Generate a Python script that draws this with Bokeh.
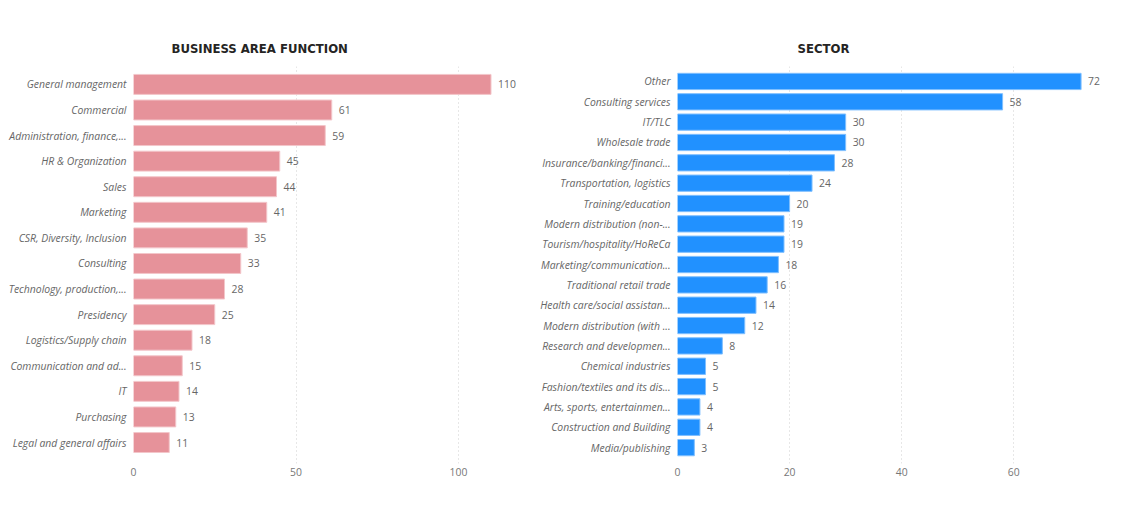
from bokeh.plotting import figure
from bokeh.layouts import row
from bokeh.models import Range1d, FixedTicker, ColumnDataSource
from bokeh.core.properties import value
from bokeh.embed import file_html
from bokeh.resources import INLINE

# ---- data ----
func_labels = ["General management", "Commercial", "Administration, finance,...",
               "HR & Organization", "Sales", "Marketing", "CSR, Diversity, Inclusion",
               "Consulting", "Technology, production,...", "Presidency",
               "Logistics/Supply chain", "Communication and ad...", "IT", "Purchasing",
               "Legal and general affairs"]
func_values = [110, 61, 59, 45, 44, 41, 35, 33, 28, 25, 18, 15, 14, 13, 11]
func_ticks = [0, 50, 100]

sector_labels = ["Other", "Consulting services", "IT/TLC", "Wholesale trade",
                 "Insurance/banking/financi...", "Transportation, logistics",
                 "Training/education", "Modern distribution (non-...",
                 "Tourism/hospitality/HoReCa", "Marketing/communication...",
                 "Traditional retail trade", "Health care/social assistan...",
                 "Modern distribution (with ...", "Research and developmen...",
                 "Chemical industries", "Fashion/textiles and its dis...",
                 "Arts, sports, entertainmen...", "Construction and Building",
                 "Media/publishing"]
sector_values = [72, 58, 30, 30, 28, 24, 20, 19, 19, 18, 16, 14, 12, 8, 5, 5, 4, 4, 3]
sector_ticks = [0, 20, 40, 60]

LABEL_FONT = "Open Sans"
LABEL_SIZE = "10.4px"
TITLE_FONT = "DejaVu Sans Condensed"


def make_chart(title, labels, values, ticks, xmax, color, edge, width,
               border_left, border_right, pad_top, pad_bottom, bar_h, title_offset):
    n = len(labels)
    idx = list(range(n))
    src = ColumnDataSource(dict(y=idx, v=values, t=[str(v) for v in values]))
    p = figure(width=width, height=492, output_backend="svg", toolbar_location=None,
               x_range=Range1d(0, xmax),
               y_range=Range1d(n - 1 + pad_bottom, -pad_top),
               min_border_left=border_left, min_border_right=border_right,
               min_border_top=66, min_border_bottom=29)
    p.hbar(y="y", right="v", left=0, height=bar_h, source=src,
           fill_color=color, line_color=edge, line_width=1)
    p.text(x="v", y="y", text="t", source=src, x_offset=7,
           text_baseline="middle", text_align="left",
           text_font=value(LABEL_FONT), text_font_size=LABEL_SIZE, text_color="#666666")
    p.title.text = title
    p.title.align = "left"
    p.title.offset = title_offset
    p.title.text_font = TITLE_FONT
    p.title.text_font_size = "13px"
    p.title.text_font_style = "bold"
    p.title.text_color = "#252423"
    p.title.standoff = 21

    p.outline_line_color = None
    p.background_fill_color = "white"
    p.border_fill_color = "white"
    p.ygrid.grid_line_color = None
    p.xgrid.grid_line_color = "#cfcfcf"
    p.xgrid.grid_line_dash = "1 3"
    p.xaxis.ticker = FixedTicker(ticks=ticks)
    p.yaxis.ticker = FixedTicker(ticks=idx)
    p.yaxis.major_label_overrides = {i: lab for i, lab in enumerate(labels)}
    for ax in (p.xaxis[0], p.yaxis[0]):
        ax.axis_line_color = None
        ax.major_tick_line_color = None
        ax.minor_tick_line_color = None
        ax.major_tick_out = 0
        ax.major_tick_in = 0
        ax.minor_tick_out = 0
        ax.minor_tick_in = 0
        ax.major_label_text_font = LABEL_FONT
        ax.major_label_text_font_size = LABEL_SIZE
        ax.major_label_text_color = "#666666"
    p.yaxis.major_label_text_font_style = "italic"
    p.yaxis.major_label_standoff = 7
    p.xaxis.major_label_standoff = 4
    p.xaxis.major_label_text_color = "#777777"
    return p


p1 = make_chart("BUSINESS AREA FUNCTION", func_labels, func_values, func_ticks, 120,
                "#E6929A", "#F3C6CA", 537, 133, 14, 0.70, 0.82, 0.78, 38)
p2 = make_chart("SECTOR", sector_labels, sector_values, sector_ticks, 76,
                "#2191FF", "#7FBFFF", 577, 140, 11, 0.735, 0.78, 0.8, 120)

layout = row(p1, p2)
open("out.html", "w").write(file_html(layout, INLINE))
